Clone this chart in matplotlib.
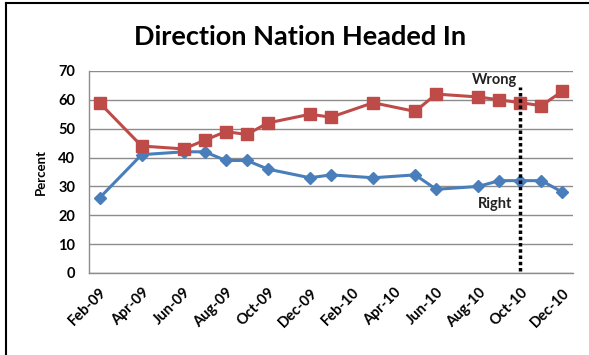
import matplotlib.pyplot as plt
from matplotlib.lines import Line2D
import pandas as pd

# ---------------- data ----------------
months = ["2009-02", "2009-04", "2009-06", "2009-07", "2009-08", "2009-09",
          "2009-10", "2009-12", "2010-01", "2010-03", "2010-05", "2010-06",
          "2010-08", "2010-09", "2010-10", "2010-11", "2010-12"]
wrong = [59, 44, 43, 46, 49, 48, 52, 55, 54, 59, 56, 62, 61, 60, 59, 58, 63]
right = [26, 41, 42, 42, 39, 39, 36, 33, 34, 33, 34, 29, 30, 32, 32, 32, 28]

tick_months = ["2009-02", "2009-04", "2009-06", "2009-08", "2009-10", "2009-12",
               "2010-02", "2010-04", "2010-06", "2010-08", "2010-10", "2010-12"]
marker_month = "2010-10"

start = pd.Period("2009-02", freq="M")


def month_pos(m):
    return (pd.Period(m, freq="M") - start).n


x = [month_pos(m) for m in months]
ticks = [month_pos(m) for m in tick_months]
tick_labels = [pd.Period(m, freq="M").strftime("%b-%y") for m in tick_months]

plt.rcParams["font.family"] = ["Lato", "DejaVu Sans"]

fig = plt.figure(figsize=(5.89, 3.55), dpi=100)
ax = fig.add_axes([0.1511, 0.231, 0.8217, 0.569])

blue = "#4A7EBB"
red = "#BE4B48"

ax.plot(x, right, color=blue, lw=2.2, marker="D", ms=6.5,
        markeredgecolor=blue, zorder=3)
ax.plot(x, wrong, color=red, lw=2.2, marker="s", ms=8.5,
        markeredgecolor=red, zorder=3)

# vertical dotted marker line
ax.plot([month_pos(marker_month)] * 2, [0.7, 64.5], color="black",
        lw=2.5, ls=(0, (1, 0.8)), zorder=4)

ax.text(18.75, 66.9, "Wrong", ha="center", va="center", fontsize=10.5,
        fontweight="bold", color="#222222", zorder=5)
ax.text(18.8, 23.8, "Right", ha="center", va="center", fontsize=10.5,
        fontweight="bold", color="#222222", zorder=5)

ax.set_xlim(-0.5, 22.5)
ax.set_ylim(0, 70)
ax.set_yticks(range(0, 71, 10))
ax.set_yticklabels([str(v) for v in range(0, 71, 10)], fontsize=10.5,
                   fontweight="bold")
ax.set_xticks(ticks)
ax.set_xticklabels(tick_labels, rotation=45, ha="right",
                   rotation_mode="anchor", fontsize=10.5, fontweight="bold")
ax.tick_params(length=0)
ax.tick_params(axis="y", pad=10)
ax.tick_params(axis="x", pad=9)

ax.grid(axis="y", color="#8C8C8C", lw=1)
ax.set_axisbelow(True)
for side in ["top", "right"]:
    ax.spines[side].set_visible(False)
for side in ["left", "bottom"]:
    ax.spines[side].set_color("#8C8C8C")
    ax.spines[side].set_linewidth(1)

ax.set_ylabel("Percent", fontsize=9.5, fontweight="bold", labelpad=8)

fig.text(0.509, 0.895, "Direction Nation Headed In", ha="center",
         va="center", fontsize=19.5, fontweight="bold")

# chart frame
fig.add_artist(Line2D([0.011, 0.011], [0, 0.992], color="black", lw=1.5,
                      transform=fig.transFigure))
fig.add_artist(Line2D([0.011, 1], [0.992, 0.992], color="black", lw=1.5,
                      transform=fig.transFigure))

fig.savefig("out.png", dpi=100)
